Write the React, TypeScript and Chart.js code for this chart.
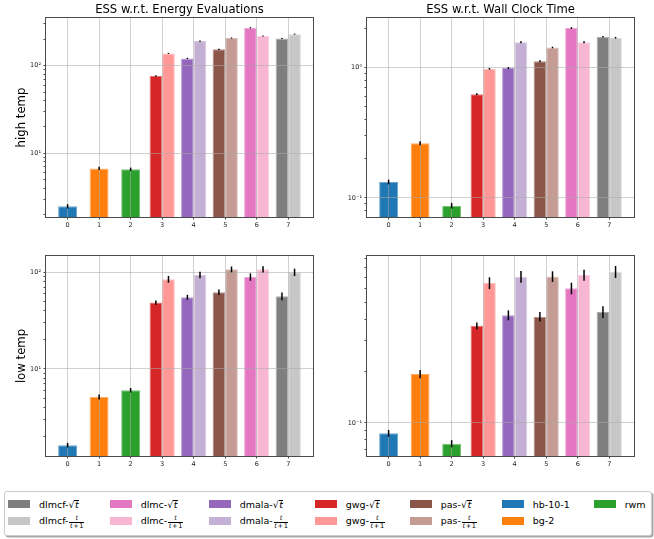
import React, { useEffect, useRef } from 'react';
import { Chart, registerables } from 'chart.js';

Chart.register(...registerables);

const FONT = 'DejaVu Sans';

// ---------- data ----------
const categories = ['0', '1', '2', '3', '4', '5', '6', '7'];

// method families, in legend order, and the category each one sits at
const families = ['dlmcf', 'dlmc', 'dmala', 'gwg', 'pas'];
const familyCategory = [7, 6, 4, 3, 5];
const sqrtColors = ['#7f7f7f', '#e377c2', '#9467bd', '#d62728', '#8c564b'];
const fracColors = ['#c7c7c7', '#f7b6d2', '#c5b0d5', '#ff9896', '#c49c94'];

const baselines = ['hb-10-1', 'bg-2', 'rwm'];
const baselineCategory = [0, 1, 2];
const baselineColors = ['#1f77b4', '#ff7f0e', '#2ca02c'];

const columnTitles = ['ESS w.r.t. Energy Evaluations', 'ESS w.r.t. Wall Clock Time'];
const rowLabels = ['high temp', 'low temp'];

// high temp, ESS w.r.t. energy evaluations  (family order: dlmcf, dlmc, dmala, gwg, pas)
const highEnergySqrt = [204, 271, 121, 76.3, 154];
const highEnergySqrtErr = [3, 4, 2, 1.5, 2.5];
const highEnergyFrac = [229, 218, 191, 138, 207];
const highEnergyFracErr = [3, 3, 3, 2, 3];
const highEnergyBase = [2.49, 6.74, 6.58];
const highEnergyBaseErr = [0.14, 0.3, 0.3];
const highEnergyRange = [1.88, 350];

// high temp, ESS w.r.t. wall clock time
const highWallSqrt = [1.73, 2.02, 0.995, 0.625, 1.12];
const highWallSqrtErr = [0.025, 0.03, 0.017, 0.011, 0.02];
const highWallFrac = [1.7, 1.57, 1.57, 0.982, 1.43];
const highWallFracErr = [0.025, 0.025, 0.025, 0.015, 0.02];
const highWallBase = [0.1327, 0.263, 0.0873];
const highWallBaseErr = [0.0055, 0.0095, 0.0043];
const highWallRange = [0.0714, 2.41];

// low temp, ESS w.r.t. energy evaluations
const lowEnergySqrt = [56.5, 89.4, 55.1, 48.5, 62.1];
const lowEnergySqrtErr = [5.2, 7.8, 3.3, 2.4, 4];
const lowEnergyFrac = [100, 107, 93.8, 84.7, 107];
const lowEnergyFracErr = [8.7, 8, 7.4, 6.8, 7.4];
const lowEnergyBase = [1.63, 5.13, 6.03];
const lowEnergyBaseErr = [0.09, 0.3, 0.32];
const lowEnergyRange = [1.26, 147];

// low temp, ESS w.r.t. wall clock time
const lowWallSqrt = [0.44, 0.603, 0.421, 0.366, 0.413];
const lowWallSqrtErr = [0.035, 0.046, 0.028, 0.0165, 0.026];
const lowWallFrac = [0.751, 0.719, 0.704, 0.647, 0.706];
const lowWallFracErr = [0.06, 0.052, 0.056, 0.051, 0.05];
const lowWallBase = [0.0871, 0.192, 0.0759];
const lowWallBaseErr = [0.0039, 0.0105, 0.0036];
const lowWallRange = [0.0644, 0.927];

// ---------- helpers ----------
function lighten(hex: string, t: number) {
  const n = parseInt(hex.slice(1), 16);
  const r = (n >> 16) & 255, g = (n >> 8) & 255, b = n & 255;
  const m = (c: number) => Math.round(c + (255 - c) * t);
  return `rgb(${m(r)},${m(g)},${m(b)})`;
}

const SUP: Record<string, string> = { '-': '⁻', '0': '⁰', '1': '¹', '2': '²', '3': '³' };
function pow10Label(v: number) {
  const e = Math.round(Math.log10(v));
  return '10' + String(e).split('').map((c) => SUP[c] || c).join('');
}
function isPow10(v: number) {
  if (!(v > 0)) return false;
  const e = Math.log10(v);
  return Math.abs(e - Math.round(e)) < 1e-9;
}
function logTicks(min: number, max: number) {
  const out: number[] = [];
  for (let e = Math.floor(Math.log10(min)); e <= Math.ceil(Math.log10(max)); e++) {
    for (let k = 1; k <= 9; k++) {
      const v = parseFloat((k * Math.pow(10, e)).toPrecision(6));
      if (v >= min && v <= max) out.push(v);
    }
  }
  return out;
}

function makeDataset(label: string, color: string, cat: number, value: number, err: number, barPct: number) {
  return {
    label,
    data: categories.map((_, i) => ({ x: i, y: i === cat ? value : null })),
    errors: categories.map((_, i) => (i === cat ? err : null)),
    backgroundColor: color,
    borderColor: lighten(color, 0.35),
    borderWidth: 1,
    barPercentage: barPct,
    categoryPercentage: 0.8,
    skipNull: true,
  };
}

function buildDatasets(p: any) {
  const ds: any[] = [];
  families.forEach((f, i) => {
    ds.push(makeDataset(f + '-sqrt', sqrtColors[i], familyCategory[i], p.sqrt[i], p.sqrtErr[i], 1));
    ds.push(makeDataset(f + '-frac', fracColors[i], familyCategory[i], p.frac[i], p.fracErr[i], 1));
  });
  baselines.forEach((b, i) => {
    ds.push(makeDataset(b, baselineColors[i], baselineCategory[i], p.base[i], p.baseErr[i], 0.75));
  });
  return ds;
}

const errorBarPlugin = {
  id: 'errorBars',
  afterDraw(chart: any) {
    const { ctx } = chart;
    const y = chart.scales.y;
    ctx.save();
    ctx.strokeStyle = '#000';
    ctx.lineWidth = 1.5;
    chart.data.datasets.forEach((ds: any, di: number) => {
      const meta = chart.getDatasetMeta(di);
      ds.data.forEach((pt: any, j: number) => {
        const err = ds.errors[j];
        if (pt.y == null || err == null) return;
        const x = meta.data[j].x;
        ctx.beginPath();
        ctx.moveTo(x, y.getPixelForValue(pt.y + err));
        ctx.lineTo(x, y.getPixelForValue(pt.y - err));
        ctx.stroke();
      });
    });
    ctx.restore();
  },
};

const framePlugin = {
  id: 'frame',
  afterDraw(chart: any) {
    const { ctx, chartArea: a } = chart;
    ctx.save();
    ctx.strokeStyle = '#4a4a4a';
    ctx.lineWidth = 1;
    ctx.strokeRect(Math.round(a.left) - 0.5, Math.round(a.top) - 0.5, Math.round(a.right - a.left) + 1, Math.round(a.bottom - a.top) + 1);
    ctx.restore();
  },
};

const W = 327;
const H = 236;
const GRID = 'rgba(170,170,170,0.55)';
const TICK_FONT = { family: FONT, size: 6.5 };

const panels = [
  {
    left: 0, top: 0, title: columnTitles[0], ylabel: rowLabels[0], yWidth: 38,
    padding: { left: 8, right: 14, top: 0, bottom: 5 },
    values: { sqrt: highEnergySqrt, sqrtErr: highEnergySqrtErr, frac: highEnergyFrac, fracErr: highEnergyFracErr, base: highEnergyBase, baseErr: highEnergyBaseErr },
    range: highEnergyRange,
  },
  {
    left: 327, top: 0, title: columnTitles[1], ylabel: '', yWidth: 40,
    padding: { left: 0, right: 20, top: 0, bottom: 5 },
    values: { sqrt: highWallSqrt, sqrtErr: highWallSqrtErr, frac: highWallFrac, fracErr: highWallFracErr, base: highWallBase, baseErr: highWallBaseErr },
    range: highWallRange,
  },
  {
    left: 0, top: 238, title: '', ylabel: rowLabels[1], yWidth: 38,
    padding: { left: 8, right: 14, top: 18, bottom: 4 },
    values: { sqrt: lowEnergySqrt, sqrtErr: lowEnergySqrtErr, frac: lowEnergyFrac, fracErr: lowEnergyFracErr, base: lowEnergyBase, baseErr: lowEnergyBaseErr },
    range: lowEnergyRange,
  },
  {
    left: 327, top: 238, title: '', ylabel: '', yWidth: 40,
    padding: { left: 0, right: 20, top: 18, bottom: 4 },
    values: { sqrt: lowWallSqrt, sqrtErr: lowWallSqrtErr, frac: lowWallFrac, fracErr: lowWallFracErr, base: lowWallBase, baseErr: lowWallBaseErr },
    range: lowWallRange,
  },
];

function Panel({ spec }: { spec: any }) {
  const ref = useRef<HTMLCanvasElement | null>(null);
  useEffect(() => {
    if (!ref.current) return;
    const [yMin, yMax] = spec.range;
    const chart = new Chart(ref.current, {
      type: 'bar',
      data: { datasets: buildDatasets(spec.values) as any },
      plugins: [errorBarPlugin, framePlugin],
      options: {
        responsive: false,
        animation: false,
        events: [],
        layout: { padding: spec.padding },
        plugins: {
          legend: { display: false },
          tooltip: { enabled: false },
          title: {
            display: !!spec.title,
            text: spec.title,
            fullSize: false,
            color: '#000',
            font: { family: FONT, size: 11.6, weight: 'normal', lineHeight: 1.2 },
            padding: { top: 3, bottom: 1.08 },
          },
        },
        scales: {
          x: {
            type: 'linear',
            min: -0.685,
            max: 7.785,
            offset: false,
            afterBuildTicks: (s: any) => {
              s.ticks = categories.map((_, i) => ({ value: i }));
            },
            afterFit: (s: any) => {
              s.height = 14;
            },
            ticks: {
              autoSkip: false,
              maxRotation: 0,
              padding: 2,
              color: '#222',
              font: TICK_FONT,
              callback: (v: any) => categories[Math.round(v)],
            },
            grid: { z: 1, color: GRID, lineWidth: 1, tickColor: '#4a4a4a', tickLength: 2.5, offset: false },
            border: { display: false },
          },
          y: {
            type: 'logarithmic',
            min: yMin,
            max: yMax,
            afterBuildTicks: (s: any) => {
              s.ticks = logTicks(yMin, yMax).map((v) => ({ value: v }));
            },
            afterFit: (s: any) => {
              s.width = spec.yWidth;
            },
            ticks: {
              autoSkip: false,
              padding: 2.5,
              color: '#222',
              font: TICK_FONT,
              callback: (v: any) => (isPow10(Number(v)) ? pow10Label(Number(v)) : ''),
            },
            grid: {
              z: 1,
              lineWidth: 1,
              color: (c: any) => (c.tick && isPow10(c.tick.value) ? GRID : 'rgba(0,0,0,0)'),
              tickColor: '#4a4a4a',
              tickLength: 2.5,
            },
            border: { display: false },
            title: {
              display: !!spec.ylabel,
              text: spec.ylabel,
              color: '#000',
              font: { family: FONT, size: 11.7, lineHeight: 1.2 },
              padding: { top: 7, bottom: 0 },
            },
          },
        },
      } as any,
    });
    return () => chart.destroy();
  }, []);
  return (
    <canvas
      ref={ref}
      width={W}
      height={H}
      style={{ position: 'absolute', left: spec.left, top: spec.top, width: W, height: H }}
    />
  );
}

// ---------- legend ----------
const legendColX = [8.3, 110, 209, 315, 410, 502, 594];
const legendRowY = [504.4, 520.7];

function SqrtT() {
  return (
    <span style={{ display: 'inline-flex', alignItems: 'flex-end', lineHeight: 1 }}>
      <span>√</span>
      <span style={{ fontStyle: 'italic', borderTop: '0.8px solid #000', lineHeight: 0.85, paddingLeft: 0.5, paddingRight: 0.5, marginBottom: 0.5 }}>t</span>
    </span>
  );
}
function FracT() {
  return (
    <span style={{ display: 'inline-flex', flexDirection: 'column', alignItems: 'center', fontSize: 6.6, lineHeight: 1, marginLeft: 1, marginTop: 3 }}>
      <span style={{ fontStyle: 'italic', paddingBottom: 0.5 }}>t</span>
      <span style={{ borderTop: '0.7px solid #000', padding: '0.5px 0.5px 0 0.5px', whiteSpace: 'nowrap' }}>
        <i>t</i>{'\u200A+\u200A'}1
      </span>
    </span>
  );
}

function Legend() {
  const columns: { label: string; color: string; kind: string }[][] = families.map((f, i) => [
    { label: f, color: sqrtColors[i], kind: 'sqrt' },
    { label: f, color: fracColors[i], kind: 'frac' },
  ]);
  columns.push([
    { label: baselines[0], color: baselineColors[0], kind: 'plain' },
    { label: baselines[1], color: baselineColors[1], kind: 'plain' },
  ]);
  columns.push([{ label: baselines[2], color: baselineColors[2], kind: 'plain' }]);
  return (
    <>
      <div
        style={{
          position: 'absolute', left: 4, top: 491, width: 646, height: 43,
          border: '1px solid #cccccc', borderRadius: 3, background: '#fff',
          boxShadow: '1.5px 1.5px 0.5px rgba(0,0,0,0.35)',
        }}
      />
      {columns.map((col, ci) =>
        col.map((e, ri) => (
          <React.Fragment key={ci + '-' + ri}>
            <div
              style={{
                position: 'absolute', left: legendColX[ci], top: legendRowY[ri] - 4,
                width: 22, height: 8, background: e.color,
              }}
            />
            <div
              style={{
                position: 'absolute', left: legendColX[ci] + 30.7, top: legendRowY[ri] - 8, height: 16,
                display: 'flex', alignItems: 'center', whiteSpace: 'nowrap',
                fontFamily: FONT, fontSize: 9.5, color: '#000',
              }}
            >
              <span style={{ lineHeight: 1 }}>{e.kind === 'plain' ? e.label : e.label + '-'}</span>
              {e.kind === 'sqrt' && <SqrtT />}
              {e.kind === 'frac' && <FracT />}
            </div>
          </React.Fragment>
        ))
      )}
    </>
  );
}

export default function App() {
  return (
    <div style={{ position: 'absolute', left: 0, top: 0, width: 654, height: 539, background: '#fff', fontFamily: FONT }}>
      {panels.map((p, i) => (
        <Panel key={i} spec={p} />
      ))}
      <Legend />
    </div>
  );
}
